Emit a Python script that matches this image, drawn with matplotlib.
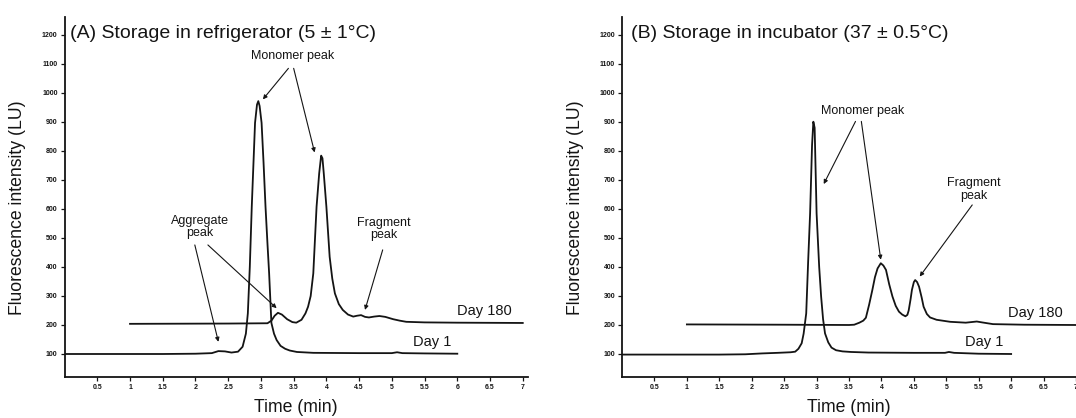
import matplotlib
matplotlib.use("Agg")
from matplotlib import pyplot as plt
import numpy as np

plt.rcParams['font.family'] = ['Liberation Sans', 'DejaVu Sans']

# (A) refrigerator
a_day1_x = [0.0, 1.5, 2.0, 2.25, 2.35, 2.45, 2.55, 2.65, 2.72, 2.77, 2.80, 2.83,
            2.86, 2.91, 2.94, 2.96, 2.98, 3.01, 3.04, 3.07, 3.10, 3.125, 3.16,
            3.20, 3.24, 3.30, 3.37, 3.44, 3.55, 3.8, 4.5, 5.0, 5.08, 5.16, 5.5, 6.0]
a_day1_y = [100, 100, 101, 103, 110, 109, 105, 108, 125, 170, 240, 400,
            608, 897, 960, 972, 955, 897, 760, 608, 480, 379, 207,
            170, 148, 128, 118, 112, 107, 104, 103, 103, 106, 103, 102, 101]

a_day180_x = [1.0, 2.5, 3.1, 3.16, 3.21, 3.26, 3.32, 3.40, 3.48, 3.54, 3.62,
              3.68, 3.72, 3.76, 3.80, 3.85, 3.89, 3.92, 3.94, 3.96, 4.00, 4.05,
              4.09, 4.13, 4.19, 4.25, 4.33, 4.41, 4.47, 4.53, 4.59, 4.65, 4.73,
              4.81, 4.90, 5.02, 5.12, 5.22, 5.5, 6.0, 7.0]
a_day180_y = [204, 205, 206, 215, 232, 242, 236, 220, 210, 208, 218,
              240, 263, 300, 378, 608, 723, 784, 775, 723, 608, 435,
              360, 309, 272, 252, 236, 229, 232, 234, 228, 226, 229,
              231, 228, 220, 215, 211, 209, 208, 207]

# (B) incubator
b_day1_x = [0.0, 1.5, 1.9, 2.16, 2.4, 2.6, 2.67, 2.72, 2.77, 2.80, 2.84, 2.87,
            2.90, 2.93, 2.95, 2.97, 3.00, 3.04, 3.07, 3.10, 3.13, 3.18, 3.23,
            3.30, 3.40, 3.53, 3.8, 4.5, 4.98, 5.04, 5.12, 5.5, 6.0]
b_day1_y = [98, 98, 99, 102, 104, 106, 108, 118, 137, 170, 240, 420,
            585, 820, 901, 880, 585, 400, 298, 220, 171, 140, 122,
            113, 109, 107, 105, 104, 104, 107, 104, 101, 100]

b_day180_x = [1.0, 2.5, 3.5, 3.58, 3.66, 3.72, 3.76, 3.81, 3.86, 3.90, 3.94,
              3.99, 4.03, 4.07, 4.12, 4.17, 4.22, 4.27, 4.32, 4.37, 4.40,
              4.42, 4.45, 4.47, 4.50, 4.52, 4.55, 4.58, 4.62, 4.65, 4.70,
              4.75, 4.85, 5.06, 5.3, 5.47, 5.55, 5.72, 6.2, 7.0]
b_day180_y = [202, 201, 200, 201, 208, 215, 225, 270, 321, 365, 395,
              413, 405, 390, 340, 298, 266, 246, 236, 230, 235,
              250, 290, 321, 348, 355, 348, 332, 295, 263, 238,
              226, 218, 211, 208, 212, 209, 203, 201, 200]

y_ticks = list(range(100, 1300, 100))
x_ticks = [0.5, 1, 1.5, 2, 2.5, 3, 3.5, 4, 4.5, 5, 5.5, 6, 6.5, 7]
x_tick_labels = ['0.5', '1', '1.5', '2', '2.5', '3', '3.5', '4', '4.5', '5',
                 '5.5', '6', '6.5', '7']

INK = '#141414'


def style_axes(ax, x_max):
    """Shared look of both chromatogram panels."""
    ax.set_xlim(0, x_max)
    ax.set_ylim(20.7, 1262)
    for side in ['top', 'right']:
        ax.spines[side].set_visible(False)
    for side in ['left', 'bottom']:
        ax.spines[side].set_linewidth(1.3)
        ax.spines[side].set_color(INK)
    ax.set_yticks(y_ticks)
    ax.set_yticklabels([str(v) for v in y_ticks])
    ax.set_xticks(x_ticks)
    ax.set_xticklabels(x_tick_labels)
    ax.tick_params(axis='both', length=3, width=0.9, pad=2, colors=INK,
                   labelsize=5)
    for lab in ax.get_xticklabels() + ax.get_yticklabels():
        lab.set_fontweight('bold')
    ax.set_ylabel('Fluorescence intensity (LU)', fontsize=12.7, color=INK)
    ax.set_xlabel('Time (min)', fontsize=12.7, color=INK)
    ax.yaxis.set_label_coords(-0.083, 0.47)
    ax.xaxis.set_label_coords(0.5, -0.062)


def note(ax, text, xy_text, targets):
    ax.text(xy_text[0], xy_text[1], text, fontsize=9, color=INK,
            ha='center', va='center', linespacing=1.05)
    for start, end in targets:
        ax.annotate('', xy=end, xytext=start,
                    arrowprops=dict(arrowstyle='-|>', lw=0.8, color=INK,
                                    mutation_scale=6, shrinkA=0, shrinkB=0))


fig = plt.figure(figsize=(10.76, 4.18), dpi=100)
ax_a = fig.add_axes([0.0600, 0.0981, 0.4307, 0.8612])
ax_b = fig.add_axes([0.5781, 0.0981, 0.4219, 0.8612])

ax_a.plot(a_day1_x, a_day1_y, color=INK, lw=1.3)
ax_a.plot(a_day180_x, a_day180_y, color=INK, lw=1.3)
style_axes(ax_a, 7.08)
ax_a.text(0.012, 0.955, '(A) Storage in refrigerator (5 ± 1°C)',
          transform=ax_a.transAxes, fontsize=14, color=INK, va='center')
ax_a.text(5.99, 248, 'Day 180', fontsize=10.5, color=INK, va='center')
ax_a.text(5.32, 140, 'Day 1', fontsize=10.5, color=INK, va='center')
note(ax_a, 'Monomer peak', (3.49, 1129),
     [((3.42, 1085), (3.03, 978)), ((3.50, 1085), (3.82, 795))])
note(ax_a, 'Aggregate\npeak', (2.07, 538),
     [((1.99, 476), (2.35, 142)), ((2.19, 476), (3.24, 258))])
note(ax_a, 'Fragment\npeak', (4.88, 531),
     [((4.86, 459), (4.59, 252))])

ax_b.plot(b_day1_x, b_day1_y, color=INK, lw=1.3)
ax_b.plot(b_day180_x, b_day180_y, color=INK, lw=1.3)
style_axes(ax_b, 6.93)
ax_b.text(0.02, 0.955, '(B) Storage in incubator (37 ± 0.5°C)',
          transform=ax_b.transAxes, fontsize=14, color=INK, va='center')
ax_b.text(5.95, 240, 'Day 180', fontsize=10.5, color=INK, va='center')
ax_b.text(5.29, 142, 'Day 1', fontsize=10.5, color=INK, va='center')
note(ax_b, 'Monomer peak', (3.71, 938),
     [((3.60, 902), (3.11, 686)), ((3.69, 902), (3.99, 425))])
note(ax_b, 'Fragment\npeak', (5.42, 667),
     [((5.40, 614), (4.59, 367))])

fig.savefig('out.png', dpi=100)
